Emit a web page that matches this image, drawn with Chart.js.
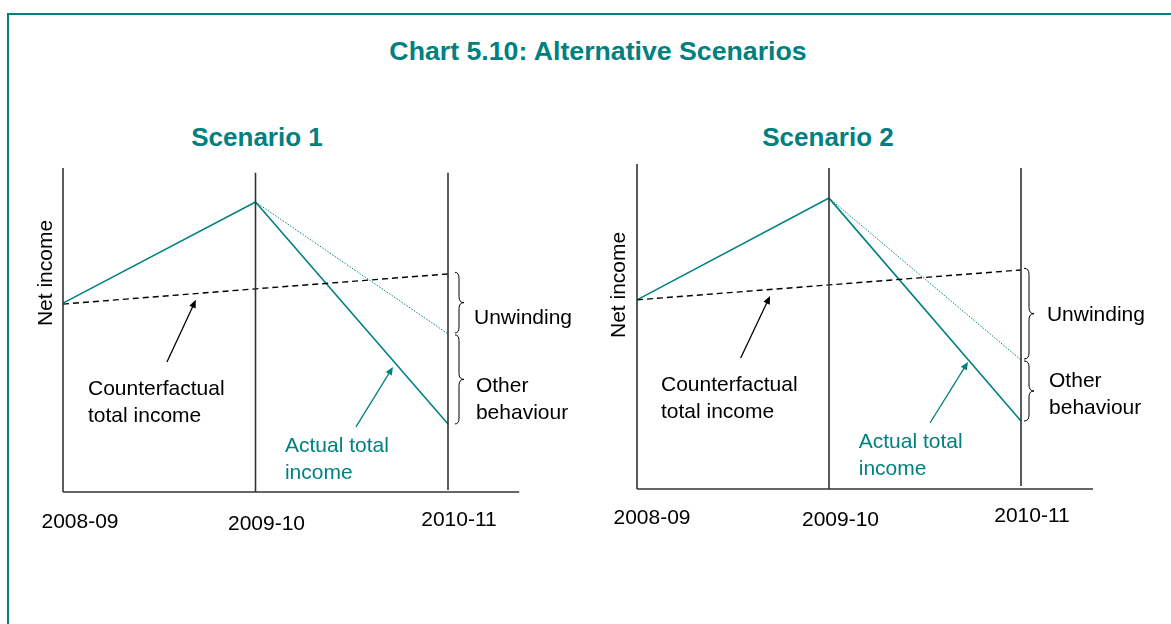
<!DOCTYPE html>
<html><head><meta charset="utf-8">
<script src="https://cdn.jsdelivr.net/npm/chart.js@4.4.1/dist/chart.umd.min.js"></script>
<style>
html,body{margin:0;padding:0;background:#fff;width:1171px;height:624px;overflow:hidden;font-family:"Liberation Sans",Arial,sans-serif;}
#frame{position:absolute;left:7px;top:13px;width:1300px;height:800px;border:2px solid #008080;box-sizing:border-box;}
.ttl{position:absolute;color:#008080;font-weight:bold;white-space:nowrap;transform:translate(-50%,-50%);line-height:1;}
canvas{position:absolute;top:0;}
</style></head>
<body>
<div id="frame"></div>
<div class="ttl" style="left:598px;top:51px;font-size:26.7px;">Chart 5.10: Alternative Scenarios</div>
<div class="ttl" style="left:257px;top:137px;font-size:26px;">Scenario 1</div>
<div class="ttl" style="left:828px;top:137px;font-size:26px;">Scenario 2</div>
<canvas id="c1" width="585" height="624" style="left:0px"></canvas>
<canvas id="c2" width="586" height="624" style="left:585px"></canvas>
<script>
// ---- data ----
const categories = ['2008-09', '2009-10', '2010-11'];
const s1Actual = [58.3, 89.5, 21.0];
const s1Counterfactual = [58.0, 62.7, 67.3];
const s1NoUnwinding = [null, 89.5, 48.8];
const s2Actual = [58.2, 89.5, 20.9];
const s2Counterfactual = [58.2, 62.8, 67.4];
const s2NoUnwinding = [null, 89.5, 39.7];
const yAxisTitle = 'Net income';

const TEAL = '#008080';
const AXIS = '#333333';

function pts(arr) {
  return arr.map((v, i) => ({x: i, y: v})).filter(p => p.y !== null);
}

const sketchPlugin = {
  id: 'sketch',
  afterDatasetsDraw(chart, args, o) {
    const ctx = chart.ctx, xs = chart.scales.x, ys = chart.scales.y;
    const X = v => xs.getPixelForValue(v), Y = v => ys.getPixelForValue(v);
    ctx.save();
    // tick labels
    ctx.font = '21px "Liberation Sans", Arial, sans-serif';
    ctx.fillStyle = '#000';
    ctx.textAlign = 'center';
    ctx.textBaseline = 'middle';
    categories.forEach((c, i) => {
      ctx.fillText(c, X(i) + o.tickDx[i], Y(0) + o.tickDy[i]);
    });
    // y title
    ctx.save();
    ctx.translate(X(0) - o.yTitleDx, Y(o.yTitleY));
    ctx.rotate(-Math.PI / 2);
    ctx.fillText(yAxisTitle, 0, 0);
    ctx.restore();
    // braces
    ctx.strokeStyle = '#000';
    ctx.lineWidth = 1;
    const bx = X(2);
    const brace = (v1, v2) => {
      const y1 = Y(v1), y2 = Y(v2), ym = (y1 + y2) / 2, r = 6;
      const x0 = bx + o.brace[0], x1 = bx + o.brace[1], x2 = bx + o.brace[2];
      ctx.beginPath();
      ctx.moveTo(x0, y1);
      ctx.quadraticCurveTo(x1, y1, x1, y1 + r);
      ctx.lineTo(x1, ym - r);
      ctx.quadraticCurveTo(x1, ym, x2, ym);
      ctx.quadraticCurveTo(x1, ym, x1, ym + r);
      ctx.lineTo(x1, y2 - r);
      ctx.quadraticCurveTo(x1, y2, x0, y2);
      ctx.stroke();
    };
    brace(o.cf[2] + 0.5, o.nu[2] + 0.3);
    brace(o.nu[2] - 0.3, o.act[2]);
    // arrows
    const arrow = (a, color) => {
      const x1 = X(a.from[0]), y1 = Y(a.from[1]), x2 = X(a.to[0]), y2 = Y(a.to[1]);
      const ang = Math.atan2(y2 - y1, x2 - x1), L = 8, W = 3.5;
      ctx.strokeStyle = color; ctx.fillStyle = color; ctx.lineWidth = 1.3;
      ctx.beginPath(); ctx.moveTo(x1, y1);
      ctx.lineTo(x2 - Math.cos(ang) * L * 0.8, y2 - Math.sin(ang) * L * 0.8); ctx.stroke();
      ctx.beginPath();
      ctx.moveTo(x2, y2);
      ctx.lineTo(x2 - L * Math.cos(ang) + W * Math.sin(ang), y2 - L * Math.sin(ang) - W * Math.cos(ang));
      ctx.lineTo(x2 - L * Math.cos(ang) - W * Math.sin(ang), y2 - L * Math.sin(ang) + W * Math.cos(ang));
      ctx.closePath(); ctx.fill();
    };
    arrow(o.arrowCf, '#000');
    arrow(o.arrowAct, TEAL);
    // labels
    ctx.textAlign = 'left';
    o.labels.forEach(l => {
      ctx.fillStyle = l.color || '#000';
      l.lines.forEach((t, k) => ctx.fillText(t, X(l.x), Y(l.y) + k * 27));
    });
    ctx.restore();
  }
};

function makeChart(id, act, cf, nu, cfg) {
  const datasets = [
    {data: [{x: 0, y: 0}, {x: 0, y: cfg.axisTop}], borderColor: AXIS, borderWidth: 1.6},
    {data: [{x: 0, y: 0}, {x: cfg.axisRight, y: 0}], borderColor: AXIS, borderWidth: 1.6},
    {data: [{x: 1, y: 0}, {x: 1, y: cfg.lineTop}], borderColor: AXIS, borderWidth: 1.6},
    {data: [{x: 2, y: cfg.lineBottom}, {x: 2, y: cfg.lineTop}], borderColor: AXIS, borderWidth: 1.6},
    {data: pts(cf), borderColor: '#000', borderWidth: 1.4, borderDash: [6, 4]},
    {data: pts(nu), borderColor: TEAL, borderWidth: 1, borderDash: [1.5, 1.5]},
    {data: pts(act), borderColor: TEAL, borderWidth: 1.6}
  ].map(d => Object.assign({pointRadius: 0, tension: 0, clip: false, fill: false}, d));
  return new Chart(document.getElementById(id), {
    type: 'line',
    data: {datasets},
    options: {
      responsive: false, animation: false, devicePixelRatio: 1,
      layout: {padding: cfg.padding},
      scales: {
        x: {type: 'linear', min: 0, max: 2.4, display: false},
        y: {min: 0, max: 100, display: false}
      },
      plugins: {
        legend: {display: false}, tooltip: {enabled: false},
        sketch: Object.assign({act, cf, nu}, cfg.sketch)
      }
    },
    plugins: [sketchPlugin]
  });
}

makeChart('c1', s1Actual, s1Counterfactual, s1NoUnwinding, {
  padding: {left: 63, top: 168, right: 60, bottom: 132},
  axisTop: 100, axisRight: 2.37, lineTop: 98.5, lineBottom: 0.6,
  sketch: {
    tickDx: [17, 11, 11], tickDy: [30, 32, 28],
    yTitleDx: 17, yTitleY: 67.6,
    brace: [7, 11, 16],
    arrowCf: {from: [0.54, 40.1], to: [0.69, 59.3]},
    arrowAct: {from: [1.522, 20.1], to: [1.714, 38.6]},
    labels: [
      {x: 0.13, y: 31.8, lines: ['Counterfactual', 'total income']},
      {x: 1.153, y: 14.2, lines: ['Actual total', 'income'], color: TEAL},
      {x: 2.135, y: 53.7, lines: ['Unwinding']},
      {x: 2.145, y: 32.7, lines: ['Other', 'behaviour']}
    ]
  }
});

makeChart('c2', s2Actual, s2Counterfactual, s2NoUnwinding, {
  padding: {left: 52, top: 164, right: 73.2, bottom: 135},
  axisTop: 100, axisRight: 2.375, lineTop: 98.8, lineBottom: 0.9,
  sketch: {
    tickDx: [15, 11.5, 11], tickDy: [29, 31, 27],
    yTitleDx: 18, yTitleY: 62.8,
    brace: [3, 8, 13],
    arrowCf: {from: [0.54, 40.3], to: [0.693, 59.4]},
    arrowAct: {from: [1.526, 20.3], to: [1.724, 39.1]},
    labels: [
      {x: 0.125, y: 32.0, lines: ['Counterfactual', 'total income']},
      {x: 1.155, y: 14.5, lines: ['Actual total', 'income'], color: TEAL},
      {x: 2.135, y: 53.5, lines: ['Unwinding']},
      {x: 2.146, y: 33.2, lines: ['Other', 'behaviour']}
    ]
  }
});
</script>
</body></html>
